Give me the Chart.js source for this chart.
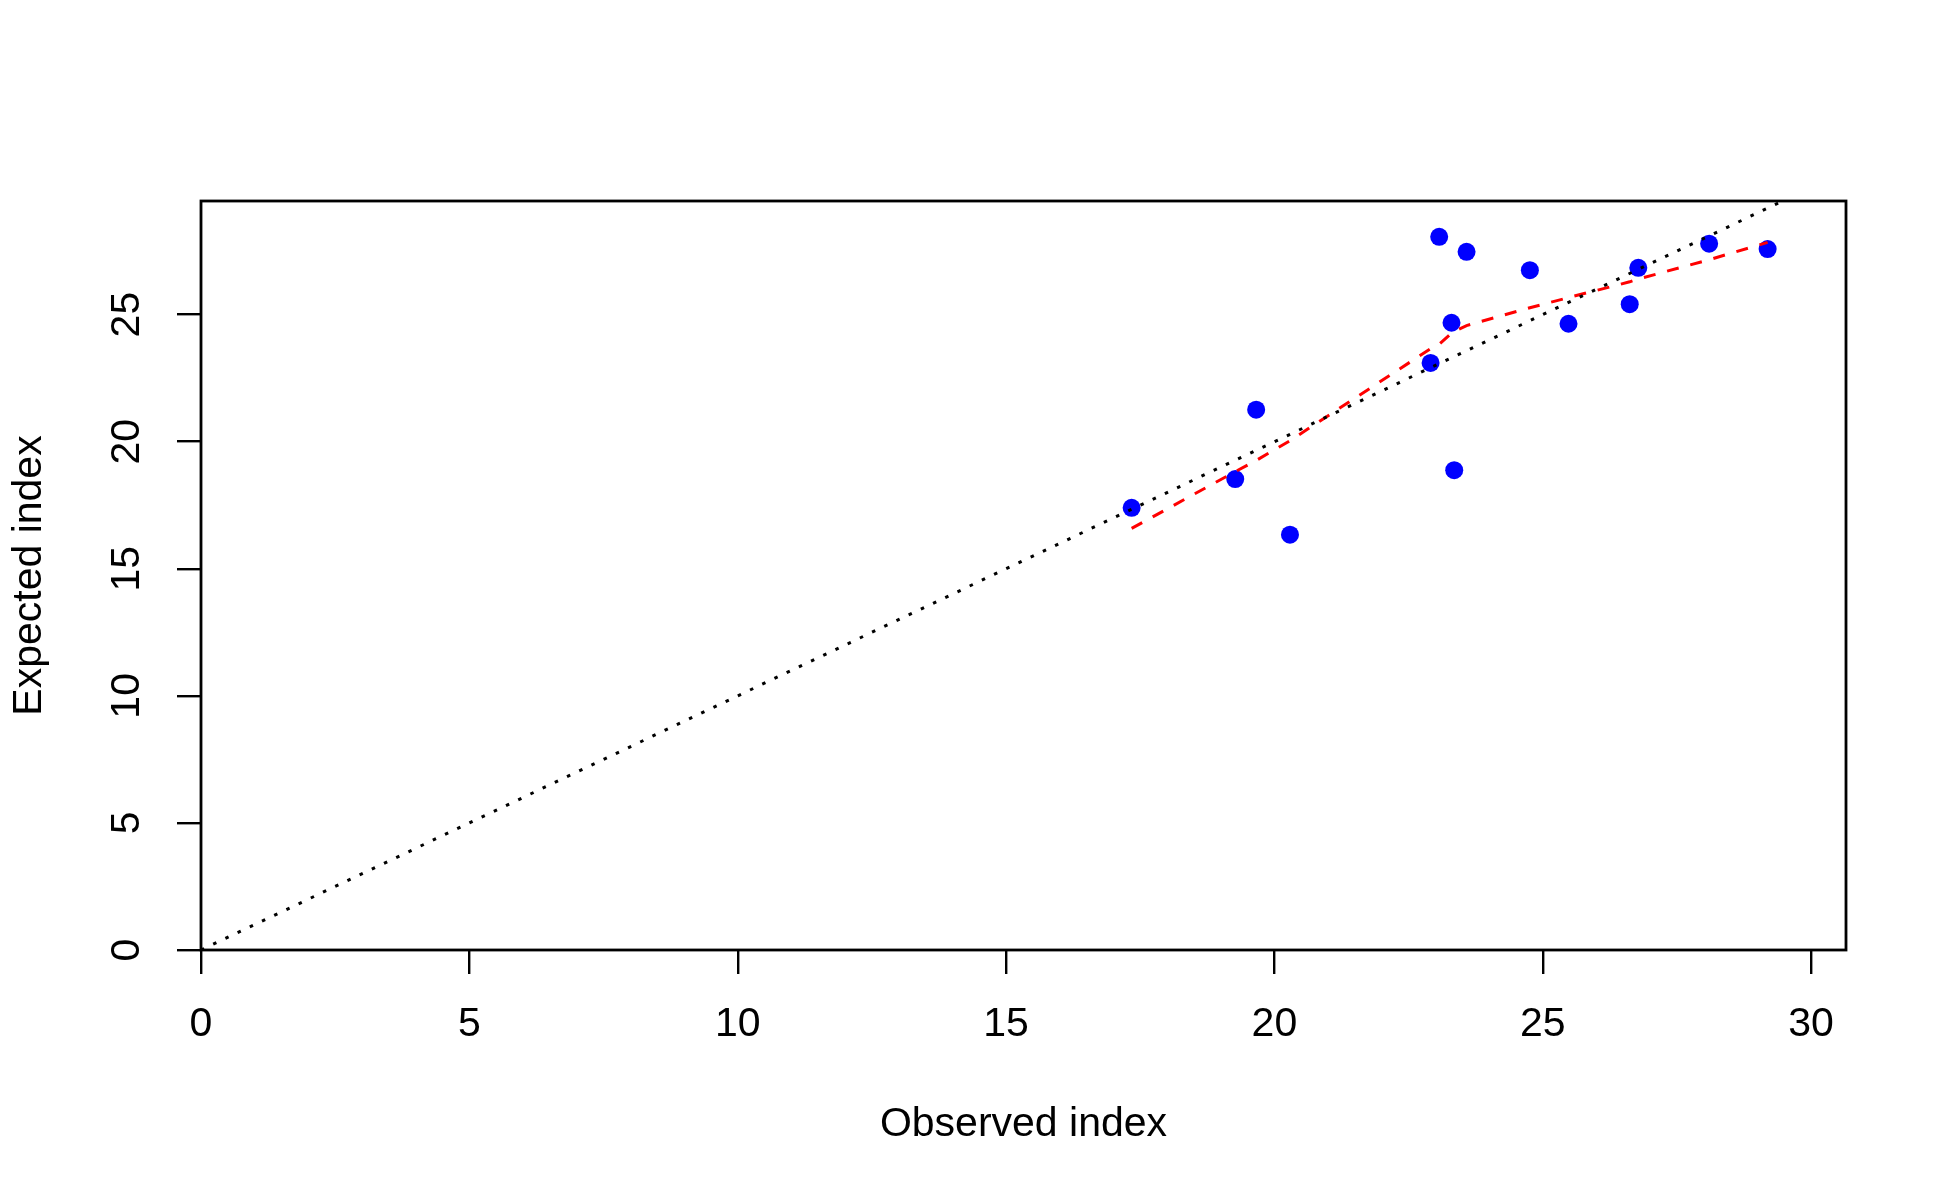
<!DOCTYPE html>
<html>
<head>
<meta charset="utf-8">
<script src="https://cdn.jsdelivr.net/npm/chart.js@4.4.1/dist/chart.umd.min.js"></script>
<style>
  html, body { margin: 0; padding: 0; background: #fff; }
  canvas { display: block; }
</style>
</head>
<body>
<canvas id="grafico" width="1950" height="1200" style="width:1950px;height:1200px"></canvas>
<script>
// observed vs expected index
const observed = [17.34, 19.27, 19.66, 20.29, 22.91, 23.07, 23.30, 23.35, 23.58, 24.76, 25.48, 26.62, 26.78, 28.10, 29.19];
const expected = [17.40, 18.53, 21.26, 16.34, 23.10, 28.06, 24.68, 18.88, 27.47, 26.75, 24.64, 25.41, 26.84, 27.79, 27.58];
// smoothed (lowess) curve, one value per sorted observed x
const smoothFit = [16.59, 18.82, 19.26, 20.04, 23.66, 23.83, 24.27, 24.34, 24.57, 25.27, 25.67, 26.29, 26.40, 27.16, 27.84];
// y = x reference line
const refLine = [0, 31];

const xTicks = [0, 5, 10, 15, 20, 25, 30];
const yTicks = [0, 5, 10, 15, 20, 25];

const FONT = '"Liberation Sans", Arial, sans-serif';
Chart.defaults.color = '#000';
Chart.defaults.font.family = FONT;

const pointsData = observed.map((x, i) => ({x: x, y: expected[i]}));
const smoothData = observed.map((x, i) => ({x: x, y: smoothFit[i]}));
const refData = refLine.map(v => ({x: v, y: v}));

// frame round the plot region + rotated y tick labels (R style)
const frameAndLabels = {
    id: 'frameAndLabels',
    afterDraw(chart) {
        const {ctx, chartArea: a} = chart;
        ctx.save();
        ctx.strokeStyle = '#000';
        ctx.lineWidth = 2.8;
        ctx.strokeRect(a.left, a.top, a.right - a.left, a.bottom - a.top);
        const ys = chart.scales.y;
        ctx.fillStyle = '#000';
        ctx.font = '41px ' + FONT;
        ctx.textAlign = 'center';
        ctx.textBaseline = 'middle';
        ys.ticks.forEach(t => {
            const py = ys.getPixelForValue(t.value);
            ctx.save();
            ctx.translate(128, py);
            ctx.rotate(-Math.PI / 2);
            ctx.fillText(String(t.value), 0, 0);
            ctx.restore();
        });
        ctx.restore();
    }
};

new Chart(document.getElementById('grafico'), {
    type: 'scatter',
    data: {
        datasets: [{
            label: 'y = x',
            data: refData,
            showLine: true,
            borderColor: '#000',
            borderWidth: 3,
            borderDash: [3.5, 10],
            pointRadius: 0,
            order: 1
        }, {
            label: 'lowess',
            data: smoothData,
            showLine: true,
            borderColor: '#ff0000',
            borderWidth: 3,
            borderDash: [12, 12],
            pointRadius: 0,
            order: 1
        }, {
            label: 'points',
            data: pointsData,
            backgroundColor: '#0000ff',
            borderColor: '#0000ff',
            borderWidth: 0,
            pointRadius: 9,
            order: 3
        }]
    },
    options: {
        responsive: false,
        devicePixelRatio: 1,
        animation: false,
        layout: { padding: { top: 201, right: 104, left: 0, bottom: 0 } },
        plugins: { legend: { display: false }, tooltip: { enabled: false } },
        scales: {
            x: {
                type: 'linear',
                min: 0,
                max: 30.65,
                afterBuildTicks: s => { s.ticks = xTicks.map(v => ({value: v})); },
                ticks: { font: { size: 41 }, padding: 26, maxRotation: 0, includeBounds: false },
                grid: { drawOnChartArea: false, drawTicks: true, tickLength: 24, color: '#000', lineWidth: 2.4 },
                border: { display: false },
                title: { display: true, text: 'Observed index', font: { size: 41 }, padding: { top: 0, bottom: 51 } },
                afterFit: s => { s.height = 250; }
            },
            y: {
                type: 'linear',
                min: 0,
                max: 29.47,
                afterBuildTicks: s => { s.ticks = yTicks.map(v => ({value: v})); },
                ticks: { display: false, includeBounds: false },
                grid: { drawOnChartArea: false, drawTicks: true, tickLength: 24, color: '#000', lineWidth: 2.4 },
                border: { display: false },
                title: { display: true, text: 'Expected index', font: { size: 41 }, padding: { top: 5, bottom: 0 } },
                afterFit: s => { s.width = 201; }
            }
        }
    },
    plugins: [frameAndLabels]
});
</script>
</body>
</html>
